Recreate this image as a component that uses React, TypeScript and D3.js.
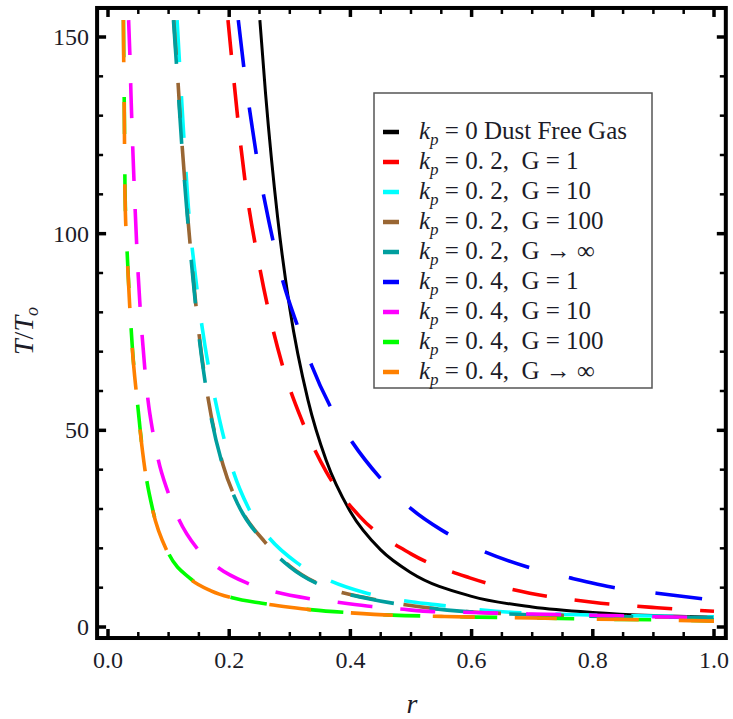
import React from "react";
import * as d3 from "d3";

const W = 733;
const H = 719;

// axis ticks
const xMajor = [0, 0.2, 0.4, 0.6, 0.8, 1.0];
const xLabels = ["0.0", "0.2", "0.4", "0.6", "0.8", "1.0"];
const yMajor = [0, 50, 100, 150];
const yLabels = ["0", "50", "100", "150"];
const xMinorStep = 0.05;
const yMinorStep = 10;
const yMax = 154.3;

// series data: [r, T/To]
const blackData: [number, number][] = [
  [0.2506, 154.3], [0.26, 135.6], [0.28, 104], [0.3, 81], [0.33, 57.7], [0.36, 42.4],
  [0.4, 29.3], [0.45, 19.6], [0.5, 13.8], [0.6, 7.8], [0.7, 5.1], [0.8, 3.7], [0.9, 2.9], [1.0, 2.5],
];
const redData: [number, number][] = [
  [0.198, 154.3], [0.226, 113.6], [0.251, 90.8], [0.287, 67], [0.32, 52.5], [0.36, 39.5],
  [0.416, 28], [0.5, 18.6], [0.597, 12.5], [0.696, 8.6], [0.8, 6.3], [0.906, 4.9], [1.0, 4.0],
];
const cyanData: [number, number][] = [
  [0.114, 154.3], [0.125, 125], [0.132, 108], [0.145, 88.3], [0.16, 71.5], [0.177, 57.7],
  [0.205, 40.4], [0.231, 30.5], [0.262, 23.4], [0.312, 16.3], [0.363, 12], [0.427, 8.6],
  [0.5, 6.4], [0.55, 5.5], [0.64, 4.0], [0.78, 3.1], [0.9, 2.8], [1.0, 2.6],
];
const brownData: [number, number][] = [
  [0.1085, 154.3], [0.113, 144.5], [0.122, 123], [0.129, 109], [0.14, 89.8], [0.15, 74.8],
  [0.165, 58.3], [0.19, 41.1], [0.215, 31.3], [0.259, 21.6], [0.3, 15.5], [0.36, 10.1],
  [0.43, 7.3], [0.48, 5.9], [0.56, 4.35], [0.65, 3.45], [0.75, 2.95], [0.85, 2.65], [1.0, 2.45],
];
const tealData: [number, number][] = [
  [0.108, 154.3], [0.113, 143], [0.122, 122], [0.129, 108], [0.14, 88.9], [0.15, 74.1],
  [0.165, 57.7], [0.19, 40.7], [0.215, 31], [0.259, 21.4], [0.3, 15.3], [0.36, 10],
  [0.43, 7.2], [0.48, 5.8], [0.56, 4.3], [0.65, 3.4], [0.75, 2.9], [0.85, 2.6], [1.0, 2.4],
];
const blueData: [number, number][] = [
  [0.215, 154.3], [0.226, 140], [0.239, 126], [0.248, 117], [0.259, 108], [0.289, 87.7],
  [0.314, 76], [0.336, 66.5], [0.366, 56.3], [0.403, 47], [0.449, 37.9], [0.5, 30.1],
  [0.55, 24.7], [0.6, 20.6], [0.691, 15.3], [0.762, 12.5], [0.84, 9.9], [0.906, 8.6], [1.0, 6.8],
];
const magentaData: [number, number][] = [
  [0.034, 154.3], [0.036, 146], [0.038, 135], [0.04, 125.5], [0.043, 113], [0.05, 89],
  [0.056, 74.7], [0.066, 57.7], [0.074, 49.6], [0.083, 42.5], [0.099, 34.3], [0.116, 27.7],
  [0.147, 20], [0.18, 15.3], [0.229, 11.2], [0.276, 8.9], [0.333, 7.2], [0.378, 6.3],
  [0.435, 5.2], [0.48, 4.6], [0.536, 3.9], [0.6, 3.7], [0.7, 3.3], [0.8, 3.0], [0.9, 2.6], [1.0, 2.4],
];
const greenData: [number, number][] = [
  [0.0255, 154.3], [0.0263, 141], [0.0271, 129], [0.0281, 111], [0.031, 97.5], [0.035, 84.5],
  [0.04, 71.5], [0.048, 58], [0.053, 50.3], [0.061, 40.2], [0.074, 29.7], [0.099, 19],
  [0.135, 12.4], [0.17, 9.3], [0.205, 7.45], [0.254, 6.05], [0.3, 5.05], [0.338, 4.35],
  [0.4, 3.62], [0.47, 3.02], [0.55, 2.72], [0.61, 2.52], [0.7, 2.3], [0.8, 2.02], [0.9, 1.82], [1.0, 1.52],
];
const orangeData: [number, number][] = [
  [0.0253, 154.3], [0.0262, 140], [0.027, 128], [0.028, 110], [0.031, 97], [0.035, 84],
  [0.04, 71], [0.048, 57.7], [0.053, 50], [0.061, 40], [0.074, 29.5], [0.099, 18.8],
  [0.135, 12.3], [0.17, 9.2], [0.205, 7.4], [0.254, 6.0], [0.3, 5.0], [0.338, 4.3],
  [0.4, 3.6], [0.47, 3.0], [0.55, 2.7], [0.61, 2.5], [0.7, 2.3], [0.8, 2.0], [0.9, 1.8], [1.0, 1.5],
];

const kpValues = ["0", "0. 2", "0. 2", "0. 2", "0. 2", "0. 4", "0. 4", "0. 4", "0. 4"];
const gValues = ["Dust Free Gas", "G = 1", "G = 10", "G = 100", "G \u2192 \u221E", "G = 1", "G = 10", "G = 100", "G \u2192 \u221E"];

const series = [
  { data: blackData, color: "#000000", dash: "none" },
  { data: redData, color: "#FF0000", dash: "35,28" },
  { data: cyanData, color: "#00FFFF", dash: "42,34" },
  { data: brownData, color: "#996633", dash: "35,28" },
  { data: tealData, color: "#009E9E", dash: "44,36" },
  { data: blueData, color: "#0000FF", dash: "47,41" },
  { data: magentaData, color: "#FF00FF", dash: "35,28" },
  { data: greenData, color: "#00FF00", dash: "37,40" },
  { data: orangeData, color: "#FF8000", dash: "42,40" },
];

const FONT = "'Liberation Serif', 'Times New Roman', serif";
const TXT = "#1c1c28";

export default function App() {
  const x = d3.scaleLinear().domain([0, 1]).range([108, 714]);
  const y = d3.scaleLinear().domain([0, 150]).range([627, 37]);
  const fx0 = x(-0.018), fx1 = x(1.0195);
  const fy0 = y(yMax + 3.08), fy1 = y(-2.8);

  const line = d3
    .line<[number, number]>()
    .x((d) => x(d[0]))
    .y((d) => y(d[1]))
    .curve(d3.curveMonotoneX);

  const xMinor = d3.range(0, 1.0001, xMinorStep).filter((v) => !xMajor.some((m) => Math.abs(m - v) < 1e-6));
  const yMinor = d3.range(0, yMax, yMinorStep).filter((v) => !yMajor.some((m) => Math.abs(m - v) < 1e-6));

  const majLen = 7, minLen = 4;

  const legX = 374, legY = 93, legW = 278, legH = 295;
  const rowY0 = 132, rowStep = 30;

  return (
    <svg width={W} height={H} style={{ display: "block", position: "absolute", left: 0, top: 0 }}>
      <rect x={0} y={0} width={W} height={H} fill="#fff" />
      <defs>
        <clipPath id="plotClip">
          <rect x={fx0} y={y(yMax)} width={fx1 - fx0} height={fy1 - y(yMax)} />
        </clipPath>
      </defs>
      <g clipPath="url(#plotClip)">
        {series.map((s, i) => (
          <path
            key={i}
            d={line(s.data) || ""}
            fill="none"
            stroke={s.color}
            strokeWidth={i === 0 ? 3 : 3.6}
            strokeDasharray={s.dash}
          />
        ))}
      </g>
      {/* frame */}
      <rect x={fx0} y={fy0} width={fx1 - fx0} height={fy1 - fy0} fill="none" stroke="#000" strokeWidth={4} />
      {/* x ticks */}
      {xMajor.map((v, i) => (
        <g key={"xm" + i}>
          <line x1={x(v)} x2={x(v)} y1={fy1} y2={fy1 - majLen - 2} stroke="#000" strokeWidth={3.5} />
          <line x1={x(v)} x2={x(v)} y1={fy0} y2={fy0 + majLen + 2} stroke="#000" strokeWidth={3.5} />
          <text x={x(v)} y={668} textAnchor="middle" fontFamily={FONT} fontSize={24} fill={TXT}>
            {xLabels[i]}
          </text>
        </g>
      ))}
      {xMinor.map((v, i) => (
        <g key={"xn" + i}>
          <line x1={x(v)} x2={x(v)} y1={fy1} y2={fy1 - minLen - 2} stroke="#000" strokeWidth={2.5} />
          <line x1={x(v)} x2={x(v)} y1={fy0} y2={fy0 + minLen + 2} stroke="#000" strokeWidth={2.5} />
        </g>
      ))}
      {/* y ticks */}
      {yMajor.map((v, i) => (
        <g key={"ym" + i}>
          <line x1={fx0} x2={fx0 + majLen + 2} y1={y(v)} y2={y(v)} stroke="#000" strokeWidth={3.5} />
          <line x1={fx1} x2={fx1 - majLen - 2} y1={y(v)} y2={y(v)} stroke="#000" strokeWidth={3.5} />
          <text x={89} y={y(v) + 8} textAnchor="end" fontFamily={FONT} fontSize={24} fill={TXT}>
            {yLabels[i]}
          </text>
        </g>
      ))}
      {yMinor.map((v, i) => (
        <g key={"yn" + i}>
          <line x1={fx0} x2={fx0 + minLen + 2} y1={y(v)} y2={y(v)} stroke="#000" strokeWidth={2.5} />
          <line x1={fx1} x2={fx1 - minLen - 2} y1={y(v)} y2={y(v)} stroke="#000" strokeWidth={2.5} />
        </g>
      ))}
      {/* axis labels */}
      <text x={412} y={713} textAnchor="middle" fontFamily={FONT} fontSize={28} fontStyle="italic" fill={TXT}>
        r
      </text>
      <text transform="translate(33,331) rotate(-90)" textAnchor="middle" fontFamily={FONT} fontSize={28} fill={TXT}>
        <tspan fontStyle="italic">T</tspan>
        <tspan>/</tspan>
        <tspan fontStyle="italic">T</tspan>
        <tspan fontStyle="italic" fontSize={18} dy={5}>o</tspan>
      </text>
      {/* legend */}
      <rect x={legX} y={legY} width={legW} height={legH} fill="#fff" stroke="#555" strokeWidth={1.5} />
      {series.map((s, i) => {
        const cy = rowY0 + i * rowStep;
        return (
          <g key={"lg" + i}>
            <line x1={383} x2={399} y1={cy} y2={cy} stroke={s.color} strokeWidth={4.5} />
            <text x={419} y={cy + 7} fontFamily={FONT} fontSize={25} fill={TXT} style={{ whiteSpace: "pre" }}>
              <tspan fontStyle="italic">k</tspan>
              <tspan fontStyle="italic" fontSize={17} dy={6}>p</tspan>
              <tspan dy={-6}>{" = " + kpValues[i] + (i === 0 ? " " : ",  ") + gValues[i]}</tspan>
            </text>
          </g>
        );
      })}
    </svg>
  );
}
